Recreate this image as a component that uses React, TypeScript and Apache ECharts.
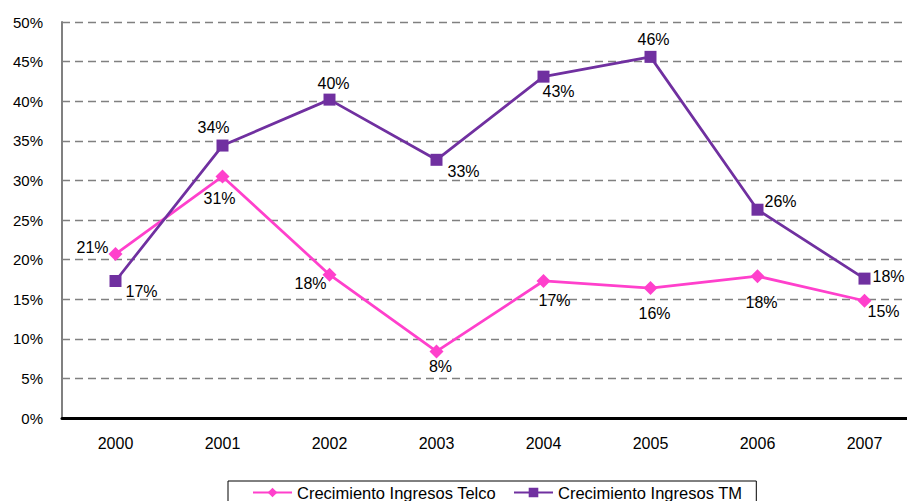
import React, { useEffect, useRef } from "react";
import * as echarts from "echarts";

const years = ["2000", "2001", "2002", "2003", "2004", "2005", "2006", "2007"];
const telco = [20.7, 30.5, 18.1, 8.4, 17.3, 16.4, 17.9, 14.8];
const tm = [17.3, 34.4, 40.2, 32.6, 43.1, 45.6, 26.3, 17.6];
const telcoName = "Crecimiento Ingresos Telco";
const tmName = "Crecimiento Ingresos TM";

// label offsets (pixels from the marker centre)
const telcoLabelOffsets = [[-23, -7], [-3, 22], [-19, 9], [4, 15], [11, 20], [4, 25], [4, 26], [19, 11]];
const tmLabelOffsets = [[26, 11], [-9, -18], [4, -16], [27, 12], [15, 15], [3, -17], [23, -8], [24, -2]];

const FONT = "'Liberation Sans', Arial, sans-serif";

export default function App() {
  const ref = useRef<HTMLDivElement>(null);
  useEffect(() => {
    if (!ref.current) return;
    const chart = echarts.init(ref.current, null, { renderer: "svg" });
    const mk = (vals: number[], offs: number[][]) =>
      vals.map((v, i) => ({ value: v, label: { offset: offs[i] } }));
    const labelCommon = {
      show: true,
      position: "inside",
      color: "#000",
      fontSize: 16,
      fontFamily: FONT,
      formatter: (p: any) => Math.round(p.value) + "%",
    };
    chart.setOption({
      animation: false,
      textStyle: { fontFamily: FONT },
      grid: { left: 62, top: 22, width: 856, height: 396, containLabel: false },
      legend: {
        left: 228,
        top: 481,
        padding: [3, 14, 5, 24],
        borderColor: "#000",
        borderWidth: 1,
        itemWidth: 39,
        itemHeight: 12,
        itemGap: 17,
        textStyle: { fontSize: 16.5, color: "#000", fontFamily: FONT },
        data: [telcoName, tmName],
      },
      xAxis: {
        type: "category",
        data: years,
        boundaryGap: true,
        axisLine: { show: true, lineStyle: { color: "#000", width: 3 } },
        axisTick: { show: false },
        axisLabel: { color: "#000", fontSize: 16, fontFamily: FONT, margin: 17 },
        splitLine: { show: false },
      },
      yAxis: {
        type: "value",
        min: 0,
        max: 50,
        interval: 5,
        axisLine: { show: true, lineStyle: { color: "#808080", width: 2 } },
        axisTick: { show: false },
        axisLabel: {
          color: "#000",
          fontSize: 15,
          fontFamily: FONT,
          margin: 19,
          formatter: (v: number) => v + "%",
        },
        splitLine: {
          show: true,
          lineStyle: { color: "#808080", type: [8, 5], width: 1.3 },
        },
      },
      series: [
        {
          name: telcoName,
          type: "line",
          data: mk(telco, telcoLabelOffsets),
          symbol: "diamond",
          symbolSize: 14,
          lineStyle: { color: "#FF40CC", width: 2.75 },
          itemStyle: { color: "#FF40CC" },
          label: labelCommon,
        },
        {
          name: tmName,
          type: "line",
          data: mk(tm, tmLabelOffsets),
          symbol: "rect",
          symbolSize: 12,
          lineStyle: { color: "#7030A0", width: 2.75 },
          itemStyle: { color: "#7030A0" },
          label: labelCommon,
        },
      ],
    });
    return () => chart.dispose();
  }, []);
  return (
    <div
      style={{
        position: "fixed",
        left: 0,
        top: 0,
        width: 907,
        height: 501,
        overflow: "hidden",
        background: "#fff",
      }}
    >
      <div ref={ref} style={{ width: 930, height: 501 }} />
    </div>
  );
}
